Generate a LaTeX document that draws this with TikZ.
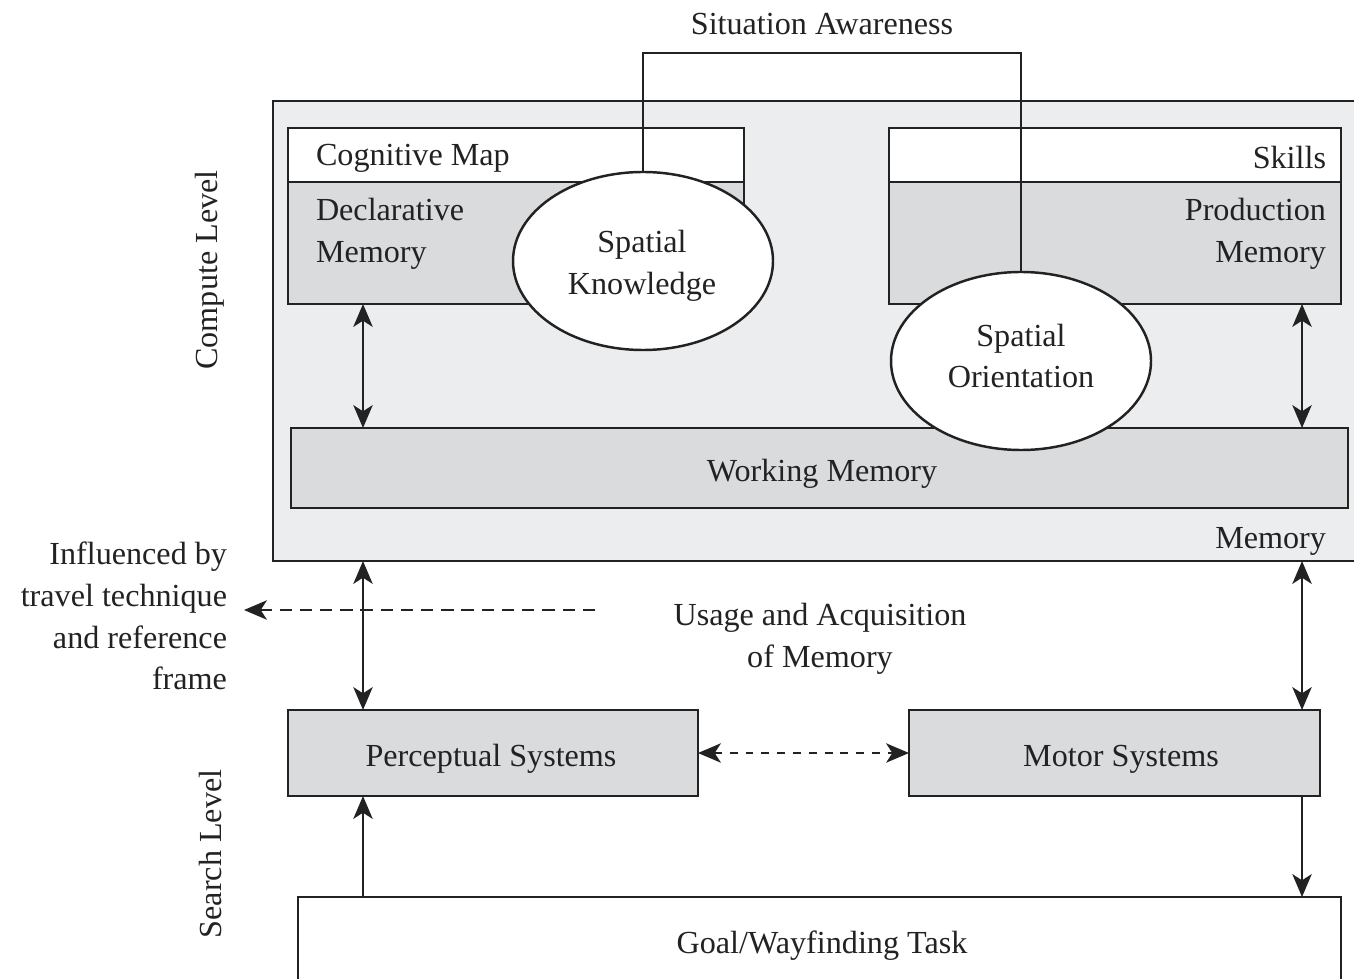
\documentclass[tikz,border=0pt]{standalone}
\usepackage{fontspec}
\setmainfont{Liberation Serif}
\usetikzlibrary{arrows.meta,shapes.geometric}
\newdimen\px \px=0.02cm
\definecolor{outerfill}{HTML}{ECEDEE}
\definecolor{innerfill}{HTML}{D9DBDC}
\definecolor{ink}{HTML}{222222}
\tikzset{
  base/.style={draw=ink, line width=1.4pt, inner sep=0pt, outer sep=0pt, rectangle},
  whitebox/.style={base, fill=white},
  graybox/.style={base, fill=innerfill},
  outerbox/.style={base, fill=outerfill},
  oval/.style={draw=ink, line width=1.4pt, fill=white, ellipse, inner sep=0pt, outer sep=0pt,
    minimum width=260\px, minimum height=178\px},
  txt/.style={inner sep=0pt, outer sep=0pt, text=ink},
  conn/.style={draw=ink, line width=1.3pt},
  biarrow/.style={conn, {Stealth[length=13pt,width=11pt,inset=3.5pt]}-{Stealth[length=13pt,width=11pt,inset=3.5pt]}},
  onearrow/.style={conn, -{Stealth[length=13pt,width=11pt,inset=3.5pt]}},
  longdash/.style={dash pattern=on 7pt off 4.5pt},
  shortdash/.style={dash pattern=on 4.5pt off 4.5pt},
}
\begin{document}
\begin{tikzpicture}[x=0.02cm, y=-0.02cm, font=\fontsize{18.3}{23.8}\selectfont]
\useasboundingbox (0,0) rectangle (1354,979);

% outer memory box
\node[outerbox, anchor=north west, minimum width=1090\px, minimum height=460\px] (mem) at (273,101) {};
\node[txt, anchor=east] (memlbl) at (1326,541) {Memory};

% cognitive map
\node[whitebox, anchor=north west, minimum width=456\px, minimum height=54\px] (cmh) at (288,128) {};
\node[graybox, anchor=north west, minimum width=456\px, minimum height=122\px] (cmb) at (288,182) {};
\node[txt, anchor=west] (cmt) at (316,158) {Cognitive Map};
\node[txt, anchor=west, align=left] (dmt) at (316,234) {Declarative\\Memory};

% skills
\node[whitebox, anchor=north west, minimum width=452\px, minimum height=54\px] (skh) at (889,128) {};
\node[graybox, anchor=north west, minimum width=452\px, minimum height=122\px] (skb) at (889,182) {};
\node[txt, anchor=east] (skt) at (1326,158) {Skills};
\node[txt, anchor=east, align=right] (pmt) at (1326,234) {Production\\Memory};

% working memory
\node[graybox, anchor=north west, minimum width=1057\px, minimum height=80\px] (wm) at (291,428) {};
\node[txt] (wmt) at (822,474) {Working Memory};

% ellipses
\node[oval] (sk) at (643,261) {};
\node[txt, align=center] (skt2) at (642,266) {Spatial\\Knowledge};
\node[oval] (so) at (1021,361) {};
\node[txt, align=center] (sot) at (1021,356) {Spatial\\Orientation};

% situation awareness
\node[txt] (sat) at (822,24) {Situation Awareness};
\coordinate (satop) at (833,53);
\draw[conn, line width=1.4pt] (sk.north) |- (satop) -| (so.north);

% column coordinates
\coordinate (cl) at (363,0);
\coordinate (cr) at (1302,0);

% arrows inside memory
\draw[biarrow] (cl |- cmb.south) -- (cl |- wm.north);
\draw[biarrow] (cr |- skb.south) -- (cr |- wm.north);

% search level boxes
\node[graybox, anchor=north west, minimum width=410\px, minimum height=86\px] (ps) at (288,710) {};
\node[txt] (pst) at (491,759) {Perceptual Systems};
\node[graybox, anchor=north west, minimum width=411\px, minimum height=86\px] (ms) at (909,710) {};
\node[txt] (mst) at (1121,759) {Motor Systems};

\node[whitebox, anchor=north west, minimum width=1043\px, minimum height=94\px] (goal) at (298,897) {};
\node[txt] (goalt) at (822,946) {Goal/Wayfinding Task};

% memory <-> systems
\draw[biarrow] (cl |- mem.south) -- (cl |- ps.north);
\draw[biarrow] (cr |- mem.south) -- (cr |- ms.north);
\draw[biarrow, shortdash] (ps.east) -- (ms.west);
\draw[onearrow] (cl |- goal.north) -- (cl |- ps.south);
\draw[onearrow] (cr |- ms.south) -- (cr |- goal.north);

% usage text
\node[txt, align=center] (usage) at (820,639) {Usage and Acquisition\\of Memory};

% influenced
\node[txt, anchor=east, align=right] (infl) at (227,616) {Influenced by\\travel technique\\and reference\\frame};
\coordinate (dstart) at (595,610);
\coordinate (dend) at (244,610);
\draw[onearrow, longdash] (dstart) -- (dend);

% level labels
\node[txt, rotate=90] (cl1) at (210,270) {Compute Level};
\node[txt, rotate=90] (sl1) at (210,854) {Search Level};
\end{tikzpicture}
\end{document}
